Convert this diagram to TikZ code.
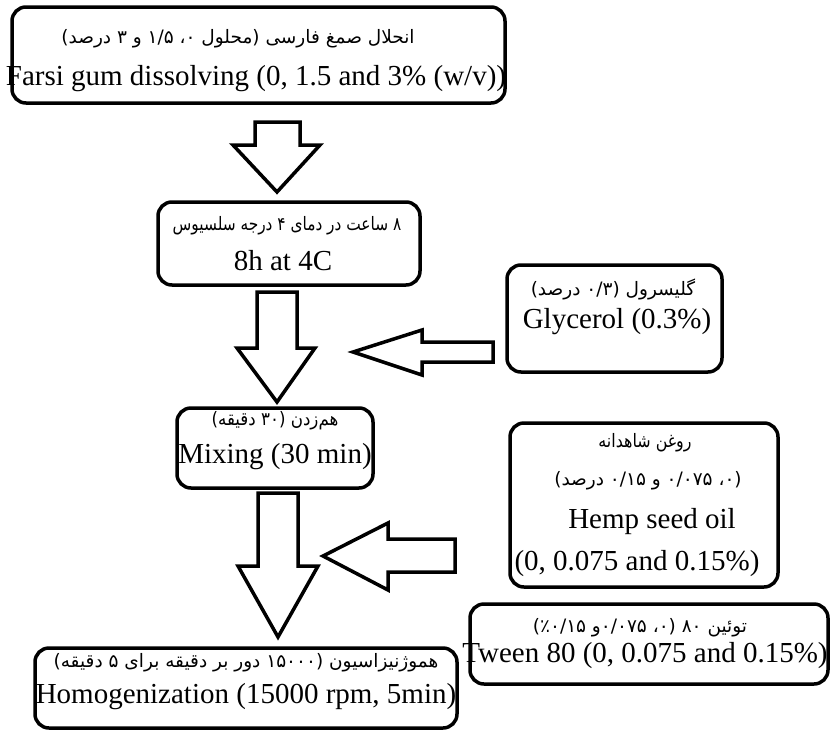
\documentclass[tikz,border=0pt]{standalone}
\usepackage{fontspec}
\setmainfont{Liberation Serif}
\newfontfamily\fa[Script=Arabic]{DejaVu Sans}
\TeXXeTstate=1
\tikzset{
  box/.style={draw, line width=3.5pt, rounded corners=14pt, inner sep=0pt},
  en/.style={anchor=base, font=\fontsize{29}{32}\selectfont, inner sep=0pt},
  fatxt/.style={anchor=base, font=\fontsize{18.5}{22}\selectfont\fa, inner sep=0pt},
  blk/.style={draw, line width=3.5pt, fill=white, line join=miter},
}
\begin{document}
\begin{tikzpicture}[x=1pt,y=-1pt]
\useasboundingbox[fill=white] (0,0) rectangle (832,731);
% boxes
\node[box, minimum width=493pt, minimum height=96pt] (b1) at (258.5,55) {};
\node[box, minimum width=262pt, minimum height=83pt] (b2) at (289,243.5) {};
\node[box, minimum width=215pt, minimum height=107pt] (gl) at (614.5,318.5) {};
\node[box, minimum width=196pt, minimum height=80pt] (b3) at (275,448) {};
\node[box, minimum width=268pt, minimum height=164pt] (hp) at (644,505) {};
\node[box, minimum width=358pt, minimum height=80pt] (tw) at (649,644) {};
\node[box, minimum width=422pt, minimum height=80pt] (b4) at (246,688) {};
% texts
\node[fatxt] (f1) at (238,43) {\beginR انحلال صمغ فارسی (محلول ۰، ۱/۵ و ۳ درصد)\endR};
\node[en] (e1) at (256,85) {Farsi gum dissolving (0, 1.5 and 3\% (w/v))};
\node[fatxt] (f2) at (287,230) {\scalebox{0.83}[1]{\beginR ۸ ساعت در دمای ۴ درجه سلسیوس\endR}};
\node[en] (e2) at (283,270) {8h at 4C};
\node[fatxt] (f3) at (613,295) {\beginR گلیسرول (۰/۳ درصد)\endR};
\node[en] (e3) at (617,328) {Glycerol (0.3\%)};
\node[fatxt] (f4) at (275,425) {\scalebox{0.9}[1]{\beginR هم‌زدن (۳۰ دقیقه)\endR}};
\node[en] (e4) at (275,463) {Mixing (30 min)};
\node[fatxt] (f5a) at (645,447) {\scalebox{0.86}[1]{\beginR روغن شاهدانه\endR}};
\node[fatxt] (f5b) at (648,485) {\beginR (۰، ۰/۰۷۵ و ۰/۱۵ درصد)\endR};
\node[en] (e5a) at (652,528) {Hemp seed oil};
\node[en] (e5b) at (637,570) {(0, 0.075 and 0.15\%)};
\node[fatxt] (f6) at (640,632) {\beginR توئین ۸۰ (۰، ۰/۰۷۵و ٪۰/۱۵)\endR};
\node[en] (e6) at (645,662) {Tween 80 (0, 0.075 and 0.15\%)};
\node[fatxt] (f7) at (246,667) {\beginR هموژنیزاسیون (۱۵۰۰۰ دور بر دقیقه برای ۵ دقیقه)\endR};
\node[en] (e7) at (246,703) {Homogenization (15000 rpm, 5min)};
% block arrows
\coordinate (t1) at (277,192);
\draw[blk] (t1) -- (233,145) -- (255,145) -- (255,122) -- (300,122) -- (300,145) -- (320,145) -- cycle;
\coordinate (t2) at (277,402);
\draw[blk] (t2) -- (237,348) -- (257,348) -- (257,292) -- (297,292) -- (297,348) -- (315,348) -- cycle;
\coordinate (t3) at (278,637);
\draw[blk] (t3) -- (238,566) -- (258,566) -- (258,493) -- (298,493) -- (298,566) -- (318,566) -- cycle;
\coordinate (t4) at (353,352);
\draw[blk] (t4) -- (422,330) -- (422,342) -- (493,342) -- (493,362) -- (422,362) -- (422,375) -- cycle;
\coordinate (t5) at (323,556);
\draw[blk] (t5) -- (388,523) -- (388,539) -- (455,539) -- (455,572) -- (388,572) -- (388,590) -- cycle;
\end{tikzpicture}
\end{document}
